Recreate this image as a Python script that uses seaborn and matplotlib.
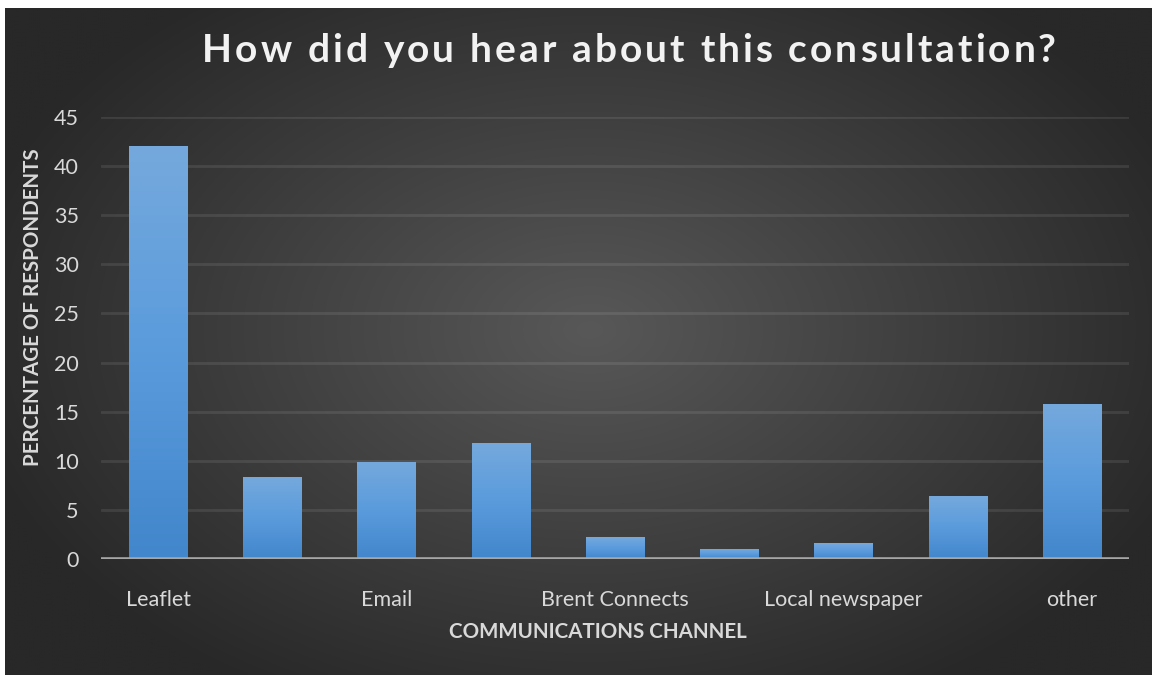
import numpy as np
import pandas as pd
import matplotlib
matplotlib.use("Agg")
import matplotlib.pyplot as plt
from matplotlib.colors import LinearSegmentedColormap
import seaborn as sns

# Survey results: share of respondents per communications channel
channels = ["Leaflet", "", "Email", "", "Brent Connects", "", "Local newspaper", "", "other"]
percentages = [42.0, 8.3, 9.9, 11.8, 2.2, 1.0, 1.6, 6.4, 15.8]
y_ticks = [0, 5, 10, 15, 20, 25, 30, 35, 40, 45]

title = "How did you hear about this consultation?"
x_label = "COMMUNICATIONS CHANNEL"
y_label = "PERCENTAGE OF RESPONDENTS"

sns.set_theme(style="white")
plt.rcParams["font.family"] = ["Lato", "DejaVu Sans"]

W, H = 1152, 675
fig = plt.figure(figsize=(W / 100, H / 100), dpi=100, facecolor="white")

# Dark radial-gradient backdrop
bg_ax = fig.add_axes([5 / W, 0, 1 - 5 / W, 1 - 8 / H], zorder=0)
bg_ax.set_axis_off()
gx, gy = np.meshgrid(np.linspace(5, W, 600), np.linspace(8, H, 400))
d = np.sqrt(((gx - 590) / 640) ** 2 + ((gy - 330) / 420) ** 2)
val = (40 + 48 * np.clip(1 - d, 0, 1)) / 255
bg_ax.imshow(np.dstack([val, val, val]), extent=[0, 1, 0, 1], aspect="auto",
             interpolation="bilinear")
bg_ax.set_xlim(0, 1)
bg_ax.set_ylim(0, 1)

# Plot area
left, right, top, bottom = 101, 1129, 117, 559
ax = fig.add_axes([left / W, 1 - bottom / H, (right - left) / W, (bottom - top) / H], zorder=1)
ax.patch.set_alpha(0)

df = pd.DataFrame({"pos": list(range(len(channels))), "pct": percentages})
sns.barplot(data=df, x="pos", y="pct", ax=ax, color="#5b9bd5", saturation=1,
            width=0.51, linewidth=0, zorder=2)

# Vertical blue gradient inside each bar
bar_cmap = LinearSegmentedColormap.from_list("bar", ["#4286cb", "#5a9bdc", "#75a9dd"])
grad = np.linspace(0, 1, 256).reshape(-1, 1)
for patch in ax.patches:
    patch.set_edgecolor("none")
    x0 = patch.get_x()
    w = patch.get_width()
    h = patch.get_height()
    im = ax.imshow(grad, extent=[x0, x0 + w, 0, h], origin="lower", aspect="auto",
                   cmap=bar_cmap, zorder=2.5)
    im.set_clip_path(patch)

ax.set_xlim(-0.5, len(channels) - 0.5)
ax.set_ylim(0, 45)
ax.set_yticks(y_ticks)
ax.set_yticklabels([str(t) for t in y_ticks])
ax.set_xticks(range(len(channels)))
ax.set_xticklabels(channels)

ax.yaxis.grid(True, color="white", alpha=0.09, linewidth=2)
ax.xaxis.grid(False)
ax.set_axisbelow(True)
for s in ax.spines.values():
    s.set_visible(False)
ax.axhline(0, color="#a6a6a6", linewidth=2.6, zorder=4)

ax.tick_params(axis="y", length=0, pad=16, labelsize=15.5, labelcolor="#d9d9d9")
ax.tick_params(axis="x", length=0, pad=22, labelsize=15.5, labelcolor="#d9d9d9")
ax.set_xlabel("")
ax.set_ylabel("")

fig.text(598 / W, 1 - 632 / H, x_label, ha="center", va="center",
         fontsize=14.8, fontweight="bold", color="#d9d9d9")
fig.text(33 / W, 1 - 307 / H, y_label, ha="center", va="center", rotation=90,
         fontsize=14.8, fontweight="bold", color="#d9d9d9")

# Letter-spaced title, laid out one glyph at a time
renderer = fig.canvas.get_renderer()
title_kw = dict(fontsize=28, fontweight="bold", color="#f2f2f2", va="center", ha="left")
tracking = 3.0
widths = []
for ch in title:
    t = fig.text(0, 0, ch if ch != " " else "n", **title_kw)
    wpx = t.get_window_extent(renderer).width
    if ch == " ":
        wpx *= 0.45
    widths.append(wpx)
    t.remove()
total = sum(widths) + tracking * (len(title) - 1)
xc = 629 - total / 2
for ch, wpx in zip(title, widths):
    if ch != " ":
        fig.text(xc / W, 1 - 51 / H, ch, **title_kw)
    xc += wpx + tracking

fig.savefig("out.png", dpi=100, facecolor=fig.get_facecolor())
